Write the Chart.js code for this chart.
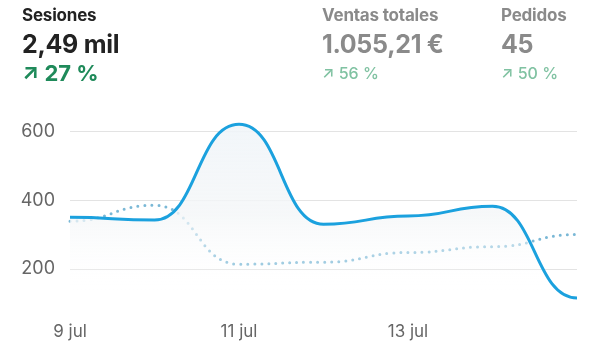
<!DOCTYPE html>
<html>
<head>
<meta charset="utf-8">
<script src="https://cdn.jsdelivr.net/npm/chart.js@4/dist/chart.umd.min.js"></script>
<style>
  html, body { margin:0; padding:0; background:#fff; }
  body { width:600px; height:357px; position:relative; overflow:hidden; font-family: Inter, "Noto Sans", sans-serif; }
  #wrap { position:absolute; left:0; top:0; width:600px; height:357px; }
  .kpi { position:absolute; top:4px; }
  .t { font-size:17px; font-weight:700; line-height:22px; letter-spacing:-0.2px; }
  .v { font-size:25px; font-weight:700; line-height:30px; margin-top:3px; letter-spacing:-0.3px; }
  .d { font-size:22px; font-weight:700; line-height:26px; margin-top:1px; }
  .d.s { font-size:16px; font-weight:500; line-height:26px; }
  .k1 .t, .k1 .v { color:#222; }
  .k1 .d { color:#1f8a5a; }
  .k2 .t, .k2 .v, .k3 .t, .k3 .v { color:#8a8a8a; }
  .k2 .d, .k3 .d { color:#80c2a2; }
</style>
</head>
<body>
<div id="wrap"><canvas id="c" width="600" height="357"></canvas></div>
<div class="kpi k1" style="left:22px"><div class="t">Sesiones</div><div class="v">2,49 mil</div><div class="d">↗ 27 %</div></div>
<div class="kpi k2" style="left:322px"><div class="t">Ventas totales</div><div class="v">1.055,21 €</div><div class="d s">↗ 56 %</div></div>
<div class="kpi k3" style="left:501px"><div class="t">Pedidos</div><div class="v">45</div><div class="d s">↗ 50 %</div></div>
<script>
const categories = ["9 jul", "10 jul", "11 jul", "12 jul", "13 jul", "14 jul", "15 jul"];
const currentSessions = [350, 342, 620, 330, 354, 382, 116];
const previousSessions = [339, 385, 214, 220, 248, 265, 300];
const yTicks = [200, 400, 600];
const shownLabelIdx = [0, 2, 4];

// horizontal bezier: flat tangent at every data point
const horizontalBezier = {
  id: 'horizontalBezier',
  beforeDraw(chart) {
    chart.data.datasets.forEach((ds, di) => {
      const meta = chart.getDatasetMeta(di);
      if (!meta.dataset) return;
      meta.dataset.updateControlPoints(chart.chartArea, 'x');
      const pts = meta.data;
      for (let i = 0; i < pts.length; i++) {
        const p = pts[i];
        const prev = pts[i - 1], next = pts[i + 1];
        const dPrev = prev ? (p.x - prev.x) / 2 : 0;
        const dNext = next ? (next.x - p.x) / 2 : 0;
        p.cp1x = p.x - dPrev; p.cp1y = p.y;
        p.cp2x = p.x + dNext; p.cp2y = p.y;
      }
    });
  }
};

const ctx = document.getElementById('c').getContext('2d');
new Chart(ctx, {
  type: 'line',
  data: {
    labels: categories,
    datasets: [
      {
        data: currentSessions,
        borderColor: '#1ba1de',
        borderWidth: 3,
        pointRadius: 0,
        tension: 0.4,
        fill: 'start',
        backgroundColor: (c) => {
          const a = c.chart.chartArea;
          if (!a) return 'rgba(243,246,249,0.8)';
          const g = c.chart.ctx.createLinearGradient(0, 120, 0, 292);
          g.addColorStop(0, 'rgba(240,245,249,0.9)');
          g.addColorStop(0.55, 'rgba(244,246,248,0.8)');
          g.addColorStop(1, 'rgba(255,255,255,0)');
          return g;
        },
        clip: false,
        order: 1
      },
      {
        data: previousSessions,
        borderColor: '#7ab8d6',
        borderWidth: 3,
        borderDash: [0, 7],
        borderCapStyle: 'round',
        pointRadius: 0,
        tension: 0.4,
        fill: false,
        clip: false,
        order: 2
      }
    ]
  },
  plugins: [horizontalBezier],
  options: {
    responsive: false,
    animation: false,
    layout: { padding: { top: 114, right: 23, left: 0, bottom: 0 } },
    plugins: { legend: { display: false }, tooltip: { enabled: false } },
    scales: {
      x: {
        grid: { display: false, drawTicks: false },
        border: { display: false },
        afterFit: (s) => { s.height = 53.5; },
        ticks: {
          autoSkip: false,
          maxRotation: 0,
          padding: 18,
          color: '#666',
          font: { family: 'Inter', size: 17 },
          callback: function(v, i) { return shownLabelIdx.includes(i) ? this.getLabelForValue(v) : ''; }
        }
      },
      y: {
        min: 100,
        max: 650,
        afterFit: (s) => { s.width = 70; },
        afterBuildTicks: (s) => { s.ticks = yTicks.map(v => ({ value: v })); },
        grid: { color: '#e3e3e3', lineWidth: 1, drawTicks: false },
        border: { display: false },
        ticks: {
          padding: 15,
          color: '#666',
          font: { family: 'Inter', size: 18 }
        }
      }
    }
  }
});
</script>
</body>
</html>
